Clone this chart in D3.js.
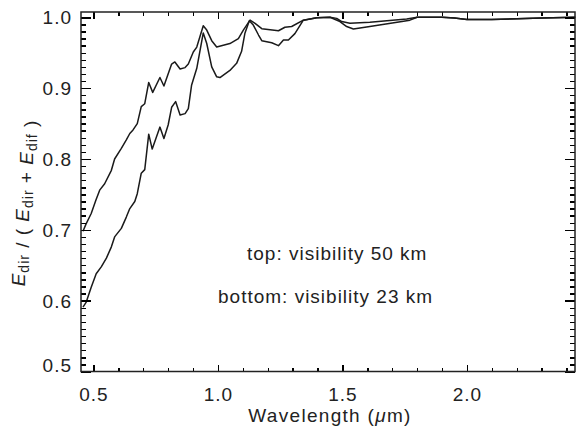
<!DOCTYPE html>
<html>
<head>
<meta charset="utf-8">
<script src="https://cdn.jsdelivr.net/npm/d3@7"></script>
<style>
    body { margin: 0; background: #fff; overflow: hidden; }
    svg { display: block; }
    text { font-family: "Liberation Sans", Arial, Helvetica, sans-serif; fill: #222; }
</style>
</head>
<body>
<script>
// wavelength (um) and Edir/(Edir+Edif)
const lambdaTop = [0.458, 0.47, 0.491, 0.51, 0.525, 0.545, 0.572, 0.585, 0.612, 0.632, 0.646, 0.659, 0.676, 0.692, 0.706,
    0.722, 0.738, 0.767, 0.783, 0.814, 0.827, 0.848, 0.868, 0.881, 0.901, 0.915, 0.941, 0.955, 0.975, 0.995,
    1.048, 1.082, 1.102, 1.129, 1.149, 1.176, 1.243, 1.269, 1.296, 1.343, 1.397, 1.45, 1.477, 1.497, 1.53,
    1.61, 1.758, 1.80, 1.90, 1.95, 2.0, 2.1, 2.2, 2.3, 2.435];
const visTop = [0.698, 0.708, 0.723, 0.742, 0.756, 0.765, 0.784, 0.800, 0.815, 0.827, 0.836, 0.841, 0.850, 0.874, 0.878,
    0.908, 0.894, 0.915, 0.903, 0.934, 0.937, 0.927, 0.929, 0.934, 0.951, 0.958, 0.988, 0.982, 0.967, 0.958,
    0.963, 0.970, 0.982, 0.996, 0.9915, 0.984, 0.981, 0.986, 0.987, 0.996, 0.9995, 1.0, 0.9985, 0.994, 0.9915,
    0.993, 0.9975, 1.0, 1.0, 0.999, 0.997, 0.997, 0.998, 0.999, 1.0];

const lambdaBottom = [0.458, 0.471, 0.491, 0.511, 0.532, 0.552, 0.572, 0.585, 0.612, 0.632, 0.646, 0.666, 0.676, 0.692, 0.706,
    0.722, 0.736, 0.767, 0.783, 0.80, 0.814, 0.83, 0.848, 0.868, 0.881, 0.894, 0.915, 0.941, 0.955, 0.975,
    0.995, 1.008, 1.048, 1.075, 1.095, 1.108, 1.126, 1.142, 1.163, 1.176, 1.216, 1.243, 1.263, 1.283, 1.309,
    1.343, 1.397, 1.45, 1.49, 1.517, 1.544, 1.61, 1.771, 1.80, 1.90, 1.95, 2.0, 2.1, 2.2, 2.3, 2.435];
const visBottom = [0.591, 0.598, 0.619, 0.638, 0.648, 0.660, 0.676, 0.690, 0.702, 0.718, 0.730, 0.740, 0.751, 0.780, 0.785,
    0.835, 0.814, 0.845, 0.829, 0.848, 0.873, 0.881, 0.862, 0.864, 0.871, 0.904, 0.928, 0.978, 0.963, 0.930,
    0.916, 0.915, 0.925, 0.935, 0.952, 0.977, 0.995, 0.989, 0.975, 0.967, 0.964, 0.960, 0.968, 0.968, 0.977,
    0.996, 0.9995, 1.0, 0.994, 0.987, 0.9835, 0.987, 0.996, 1.0, 1.0, 0.999, 0.997, 0.997, 0.998, 0.999, 1.0];

const xMajor = [0.5, 1.0, 1.5, 2.0];
const xMinor = d3.range(5, 25).map(d => d / 10);
const yMajor = [0.5, 0.6, 0.7, 0.8, 0.9, 1.0];
const yMinor = d3.range(50, 101).map(d => d / 100);

const notes = ["top: visibility 50 km", "bottom: visibility 23 km"];

const w = 576, h = 430;
const mLeft = 81, mRight = 575, mTop = 12, mBottom = 371.5;

const x = d3.scaleLinear().domain([0.45, 2.434]).range([mLeft, mRight]);
const y = d3.scaleLinear().domain([0.5, 1.0075]).range([mBottom, mTop]);

const svg = d3.select("body").append("svg")
    .attr("width", w)
    .attr("height", h);

// curves
const lineGen = d3.line()
    .x(d => x(d[0]))
    .y(d => y(d[1]));

[[lambdaTop, visTop], [lambdaBottom, visBottom]].forEach(function (s) {
    svg.append("path")
        .datum(d3.zip(s[0], s[1]))
        .attr("fill", "none")
        .attr("stroke", "#1a1a1a")
        .attr("stroke-width", 1.5)
        .attr("stroke-linejoin", "round")
        .attr("d", lineGen);
});

// axes: inward ticks on all four sides, built with d3.axis
function axisGroup(axis, tr) {
    const g = svg.append("g").attr("transform", tr).call(axis);
    g.select(".domain").remove();
    g.selectAll(".tick line")
        .attr("stroke", "#000")
        .attr("stroke-width", 1.4)
        .attr("shape-rendering", "crispEdges");
    g.selectAll(".tick text")
        .attr("fill", "#222")
        .attr("font-size", "19px")
        .attr("letter-spacing", "1px");
    g.attr("font-family", null).attr("font-size", null);
    return g;
}

axisGroup(d3.axisLeft(y).tickValues(yMinor).tickSize(-5).tickFormat(""), `translate(${mLeft},0)`);
const yAxis = axisGroup(d3.axisLeft(y).tickValues(yMajor).tickSize(-10).tickPadding(9)
    .tickFormat(d3.format(".1f")), `translate(${mLeft},0)`);
yAxis.selectAll(".tick text").attr("dy", d => d === 0.5 ? "0em" : "0.34em");

axisGroup(d3.axisRight(y).tickValues(yMinor).tickSize(-5).tickFormat(""), `translate(${mRight},0)`);
axisGroup(d3.axisRight(y).tickValues(yMajor).tickSize(-10).tickFormat(""), `translate(${mRight},0)`);

axisGroup(d3.axisBottom(x).tickValues(xMinor).tickSize(-3.5).tickFormat(""), `translate(0,${mBottom})`);
const xAxis = axisGroup(d3.axisBottom(x).tickValues(xMajor).tickSize(-7).tickPadding(16)
    .tickFormat(d3.format(".1f")), `translate(0,${mBottom})`);
axisGroup(d3.axisTop(x).tickValues(xMinor).tickSize(-3.5).tickFormat(""), `translate(0,${mTop})`);
axisGroup(d3.axisTop(x).tickValues(xMajor).tickSize(-7).tickFormat(""), `translate(0,${mTop})`);

// frame
svg.append("rect")
    .attr("x", mLeft).attr("y", mTop)
    .attr("width", mRight - mLeft).attr("height", mBottom - mTop)
    .attr("fill", "none")
    .attr("stroke", "#222")
    .attr("stroke-width", 1.5);

// annotations
svg.selectAll(".note")
    .data(notes)
    .enter().append("text")
    .attr("class", "note")
    .attr("x", (d, i) => i === 0 ? 247 : 218)
    .attr("y", (d, i) => i === 0 ? 260 : 303)
    .attr("font-size", "19px")
    .attr("letter-spacing", "1px")
    .text(d => d);

// x title
const xt = svg.append("text")
    .attr("x", 330)
    .attr("y", 422)
    .attr("text-anchor", "middle")
    .attr("font-size", "19px")
    .attr("letter-spacing", "1.3px");
xt.append("tspan").text("Wavelength (");
xt.append("tspan").attr("font-style", "italic").text("\u03bc");
xt.append("tspan").text("m)");

// y title
const yt = svg.append("text")
    .attr("transform", "translate(25,203) rotate(-90)")
    .attr("text-anchor", "middle")
    .attr("font-size", "19px")
    .attr("letter-spacing", "1px");
function eSub(sub) {
    yt.append("tspan").attr("font-style", "italic").text("E");
    yt.append("tspan").attr("font-size", "14px").attr("dy", "4").text(sub);
    yt.append("tspan").attr("dy", "-4").text("");
}
eSub("dir");
yt.append("tspan").text(" / ( ");
eSub("dir");
yt.append("tspan").text(" + ");
eSub("dif");
yt.append("tspan").text(" )");
</script>
</body>
</html>
